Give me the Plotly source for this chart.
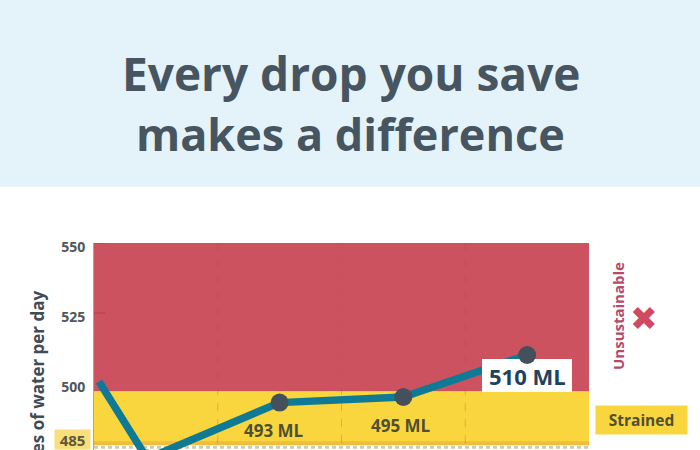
import plotly.graph_objects as go

x_pos = [0.04, 0.43, 1.5, 2.5, 3.5]
values = [500.5, 473, 493, 495, 510]
tick_vals = [550, 525, 500]
divider_x = [1, 2, 3]
unsustainable_band = [497, 550]
strained_band = [478.5, 497]
title_lines = ["Every drop you save", "makes a difference"]
y_title = "Millilitres of water per day"

W, H = 700, 450
L, R = 94, 589
TOP = 243
PX_PER_UNIT = 2.8
y_min = 550 - (H - TOP) / PX_PER_UNIT

RED = "#cd5260"
YEL = "#f9d63e"
TEAL = "#0f7a96"
DARK = "#44505c"
GREY = "#46555f"

px = lambda p: (p - L) / (R - L)
py = lambda p: (H - p) / (H - TOP)
dx = lambda p: (p - L) / (R - L) * 4
dy = lambda p: 550 - (p - TOP) / PX_PER_UNIT

fig = go.Figure()
shapes = [
    dict(type="rect", xref="paper", yref="paper", x0=px(0), x1=px(W), y0=py(187), y1=py(0),
         fillcolor="#e4f2fa", line_width=0, layer="below"),
]
fig.add_trace(go.Scatter(x=x_pos, y=values, mode="lines", line=dict(color=TEAL, width=7.5),
                         hoverinfo="skip", showlegend=False))
# white label box: sits above the line but below the markers
bx0, bx1, by0, by1 = dx(482), dx(572), dy(392), dy(359)
fig.add_trace(go.Scatter(x=[bx0, bx1, bx1, bx0, bx0], y=[by0, by0, by1, by1, by0], mode="lines",
                         fill="toself", fillcolor="white", line=dict(color="white", width=0),
                         hoverinfo="skip", showlegend=False))
fig.add_trace(go.Scatter(x=x_pos[1:], y=values[1:], mode="markers",
                         marker=dict(color=DARK, size=18), hoverinfo="skip", showlegend=False))

shapes += [
    dict(type="rect", x0=0, x1=4, y0=unsustainable_band[0], y1=unsustainable_band[1], fillcolor=RED, line_width=0, layer="below"),
    dict(type="rect", x0=0, x1=4, y0=strained_band[0], y1=strained_band[1], fillcolor=YEL, line_width=0, layer="below"),
    dict(type="line", x0=0, x1=4, y0=strained_band[0], y1=strained_band[0], line=dict(color="#f0bd3c", width=4), layer="below"),
    dict(type="line", x0=0, x1=4, y0=y_min + 1.0, y1=y_min + 1.0, line=dict(color="#c9cfa8", width=3, dash="4px,3px"), layer="below"),
]
for d in divider_x:
    shapes.append(dict(type="line", x0=d, x1=d, y0=strained_band[0], y1=550,
                       line=dict(color="rgba(150,90,70,0.30)", width=1, dash="8px,8px"), layer="below"))
for t in [550, 525]:
    shapes.append(dict(type="line", xref="x", x0=0, x1=0.09, y0=t, y1=t,
                       line=dict(color="rgba(120,50,60,0.45)", width=1), layer="below"))

def ann(text, x, y, size, color, xref="x", yref="y", bg=None, angle=0, w=None, h=None, **kw):
    a = dict(text=text, x=x, y=y, xref=xref, yref=yref, showarrow=False, xanchor="center",
             font=dict(family="Open Sans", size=size, color=color, weight="bold"), textangle=angle)
    a["yanchor"] = "middle"
    a.update(kw)
    if bg: a["bgcolor"] = bg
    if w: a["width"] = w
    if h: a["height"] = h
    return a

anns = [
    ann(title_lines[0], px(351), py(73), 46, GREY, "paper", "paper"),
    ann(title_lines[1], px(350), py(133), 45, GREY, "paper", "paper"),
    ann(y_title, px(37), py(289), 17, "#3f4b55", "paper", "paper", angle=-90, yanchor="top"),
    ann("485", px(72.5), py(439), 15, "#5b5a3a", "paper", "paper", bg="#f8df7c", w=33, h=17),
    ann("493 ML", 1.5, 493, 17, "#4f4f33", yshift=-28, xshift=-6),
    ann("495 ML", 2.5, 495, 17, "#4f4f33", yshift=-28, xshift=-2),
    ann("510 ML", px(527), py(376), 22, "#1c4360", "paper", "paper"),
    ann("Unsustainable", px(618), py(316), 15, "#b54a6a", "paper", "paper", angle=-90),
    ann("Strained", px(641), py(420), 15.5, "#4f4f33", "paper", "paper", bg=YEL, w=89, h=26),
    dict(text="\u2716", x=px(644), y=py(318), xref="paper", yref="paper", showarrow=False,
         xanchor="center", yanchor="middle",
         font=dict(size=33, color="#cf4a60", family="DejaVu Sans")),
]

fig.update_layout(
    width=W, height=H, margin=dict(l=L, r=W-R, t=TOP, b=0),
    paper_bgcolor="white", plot_bgcolor="white", showlegend=False,
    shapes=shapes, annotations=anns,
    xaxis=dict(range=[0, 4], showgrid=False, zeroline=False, showticklabels=False, ticks="",
               showline=False),
    yaxis=dict(range=[y_min, 550], tickvals=tick_vals, showgrid=False, zeroline=False,
               ticks="", showline=True, linecolor="#b5a58c", linewidth=1,
               tickfont=dict(family="Open Sans", size=14, color="#4f565c", weight="bold"),
               ticklabelstandoff=5, ticklabelshift=4),
)
fig.write_html("out.html", config={"displayModeBar": False},
               post_script="document.body.style.margin='0';document.documentElement.style.overflow='hidden';")
